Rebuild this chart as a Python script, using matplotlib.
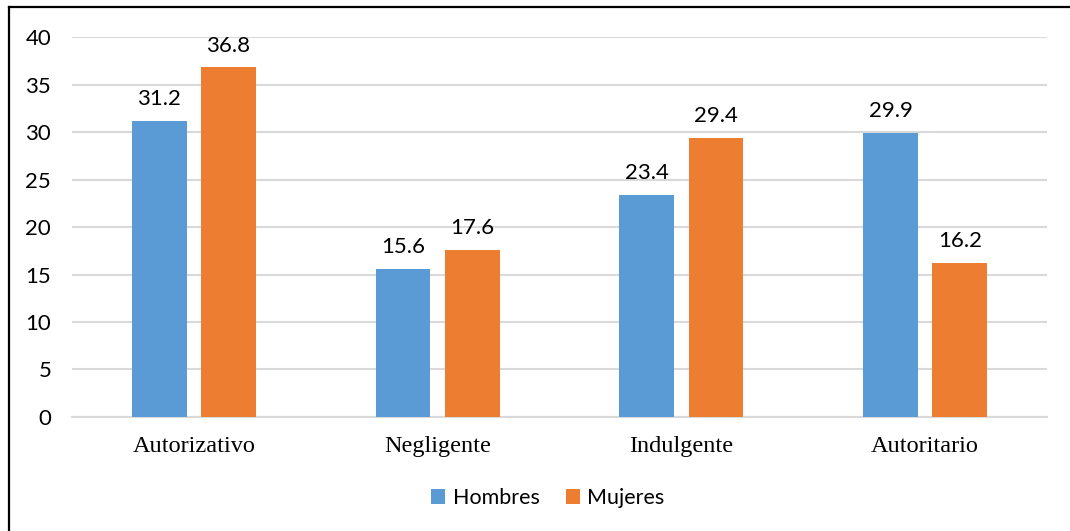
import matplotlib.pyplot as plt
import numpy as np
from matplotlib.lines import Line2D

categorias = ["Autorizativo", "Negligente", "Indulgente", "Autoritario"]
hombres = [31.2, 15.6, 23.4, 29.9]
mujeres = [36.8, 17.6, 29.4, 16.2]
series = ["Hombres", "Mujeres"]
colores = ["#5B9BD5", "#ED7D31"]

fig = plt.figure(figsize=(10.7, 5.31), dpi=100)
ax = fig.add_axes([0.0673, 0.2147, 0.9112, 0.7156])

x = np.arange(len(categorias))
w = 0.225
off = 0.142

b1 = ax.bar(x - off, hombres, w, color=colores[0], label=series[0], zorder=3)
b2 = ax.bar(x + off, mujeres, w, color=colores[1], label=series[1], zorder=3)

for bars, vals in [(b1, hombres), (b2, mujeres)]:
    for b, v in zip(bars, vals):
        ax.annotate(f"{v:.1f}", (b.get_x() + b.get_width() / 2, v),
                    xytext=(0, 8.5), textcoords="offset points",
                    ha="center", va="bottom", fontsize=16, family="Lato",
                    color="#000000")

ax.set_xlim(-0.5, 3.5)
ax.set_ylim(0, 40)
ax.set_yticks(range(0, 41, 5))
ax.yaxis.grid(True, color="#d9d9d9", linewidth=1.5, zorder=0)
ax.set_axisbelow(True)

for s in ["top", "right", "left"]:
    ax.spines[s].set_visible(False)
ax.spines["bottom"].set_color("#d9d9d9")
ax.spines["bottom"].set_linewidth(1.5)

ax.set_xticks(x)
ax.set_xticklabels(categorias, family="Liberation Serif", fontsize=17.5)
ax.tick_params(axis="x", length=0, pad=14)
ax.tick_params(axis="y", length=0, pad=15, labelsize=16)
for t in ax.get_yticklabels():
    t.set_family("Lato")

leg = fig.legend(loc="center", bbox_to_anchor=(0.512, 0.062), ncol=2,
                 frameon=False, prop={"family": "Lato", "size": 15.5},
                 handlelength=0.65, handleheight=0.65, handletextpad=0.35,
                 columnspacing=1.2)

# marco del grafico (solo izquierda y arriba visibles)
fig.add_artist(Line2D([9 / 1070, 9 / 1070], [0, 1 - 7 / 531],
                      transform=fig.transFigure, color="black", linewidth=1.6))
fig.add_artist(Line2D([9 / 1070, 1], [1 - 7 / 531, 1 - 7 / 531],
                      transform=fig.transFigure, color="black", linewidth=1.6))

fig.savefig("out.png", dpi=100)
